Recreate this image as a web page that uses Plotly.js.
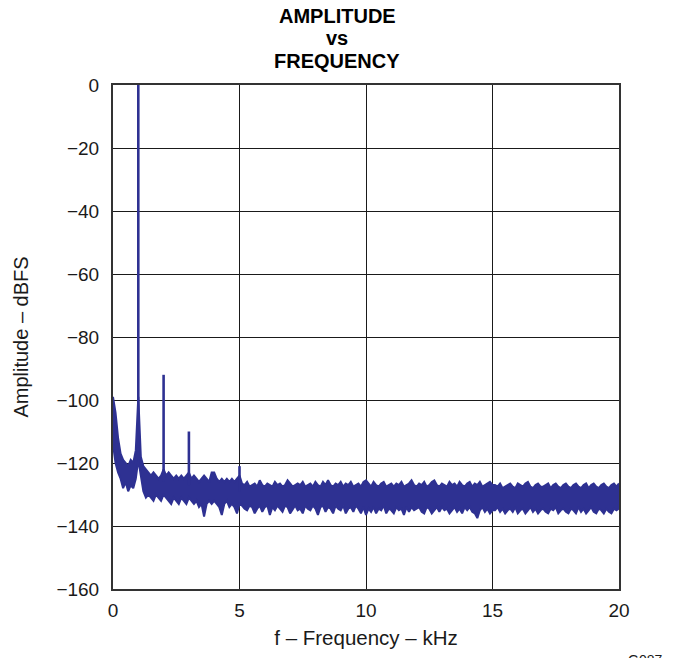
<!DOCTYPE html>
<html>
<head>
<meta charset="utf-8">
<script src="https://cdn.plot.ly/plotly-3.0.1.min.js"></script>
<style>html,body{margin:0;padding:0;background:#fff;}#chart{width:674px;height:658px;}</style>
</head>
<body>
<div id="chart"></div>
<script>
// Frequency bins (kHz), 0.1 kHz spacing from 0 to 20
const freqStart = 0, freqStep = 0.1, freqCount = 201;

// Upper edge of the noise floor (dBFS)
const floorUpper = [
  -99,-104,-112,-117,-119,-120,-121,-119,-120,-116,
  -99,-118,-121,-122,-123,-124,-123,-124,-125,-124,
  -122,-124,-123,-124,-125,-124,-125,-124,-125,-124,
  -123,-125,-124,-125,-126,-125,-124,-125,-126,-123,
  -123,-125,-126,-125,-126,-125,-126,-125,-126,-125,
  -124,
  -126.5,-127,-126,-127.5,-127,-126.5,-127.5,-125.5,-127,-127.5,
  -126.5,-127,-127.5,-126,-127,-126.5,-127.5,-127,-125.5,-126.5,
  -127.5,-127,-126.5,-127,-126,-127.5,-127,-126.5,-127.5,-126,
  -127,-127.5,-126,-127,-125.5,-127,-127.5,-126.5,-127,-126,
  -127.5,-126.5,-127,-126,-127.5,-127,-126.5,-127.5,-126,-125.5,
  -126.5,-127.5,-126,-127,-127.5,-126.5,-126,-127.5,-127,-126.5,
  -127.5,-126.5,-127,-126,-127.5,-127,-126.5,-125.5,-127,-127.5,
  -126.5,-127,-126,-127.5,-127,-126,-125.5,-127,-127.5,-126.5,
  -127,-127.5,-126,-127,-126.5,-127.5,-126,-127,-127.5,-126.5,
  -126,-127.5,-126.5,-127,-126,-127.5,-127,-126.5,-126,-127,
  -127,-127.5,-126.5,-128,-127.5,-127,-126.5,-127.5,-128,-126.5,
  -127,-127.5,-126.5,-126,-127.5,-128,-127,-126.5,-127.5,-127.5,
  -127,-126.5,-128,-127,-126.5,-127.5,-128,-127,-126.5,-127.5,
  -128,-127,-126.5,-127.5,-128,-127,-126.5,-128,-127,-126.5,
  -127.5,-128,-127,-126.5,-127.5,-128,-127,-126.5,-127.5,-126.5
];

// Lower edge of the noise floor (dBFS)
const floorLower = [
  -114,-120,-123,-125,-128,-126,-129,-127,-128,-125,
  -119,-124,-129,-131,-130,-131,-132,-130,-131,-132,
  -130,-131,-132,-133,-131,-132,-133,-131,-132,-133,
  -131,-132,-133,-132,-134,-133,-137,-133,-132,-133,
  -132,-133,-134,-136.5,-133,-132,-134,-133,-134,-136,
  -133,
  -133.5,-134.5,-135,-133.5,-134,-136,-134.5,-133.5,-135.5,-134,
  -133.5,-136.5,-134,-135,-133.5,-134.5,-135.5,-133.5,-134,-136,
  -134.5,-133.5,-135,-134.5,-136,-133.5,-134.5,-135,-133.5,-134.5,
  -136.5,-134,-133.5,-135.5,-134,-134.5,-136,-133.5,-134.5,-135,
  -133.5,-136,-134.5,-134,-135.5,-133.5,-134.5,-136,-134,-136.5,
  -134.5,-135.5,-134,-136,-134.5,-135,-133.5,-136,-134.5,-135,
  -136,-134,-135,-134.5,-136.5,-134,-135.5,-134,-135,-134.5,
  -134,-135.5,-136,-134,-134.5,-136,-135,-134,-135.5,-134,
  -135,-134.5,-136,-135,-134,-135.5,-134.5,-136,-134,-135,
  -134,-135.5,-136,-137.5,-135,-134,-135.5,-134.5,-136,-135,
  -135,-134,-135.5,-134.5,-136,-135,-134.5,-135.5,-134,-136,
  -135,-134.5,-136,-135,-134,-135.5,-134.5,-136,-135,-134.5,
  -135.5,-136,-134.5,-135,-134,-136,-135,-134.5,-135.5,-136,
  -134.5,-135,-136,-134,-135.5,-134.5,-136,-135,-134,-135.5,
  -136,-134.5,-135,-136,-134.5,-135.5,-136,-134.5,-135,-134.5
];

// Fundamental and harmonic spurs
const toneFreq = [1, 2, 3, 5];         // kHz
const toneAmp  = [0, -92, -110, -121]; // dBFS

// Axis ticks
const xTicks = [0, 5, 10, 15, 20];
const yTicks = [0, -20, -40, -60, -80, -100, -120, -140, -160];

// Title lines
const titleLines = ['AMPLITUDE', 'vs', 'FREQUENCY'];

const freq = [];
for (let i = 0; i < freqCount; i++) freq.push(+(freqStart + i * freqStep).toFixed(2));

const blue = '#2e3192';

// Build spur segments from the spur table (base taken from the floor's lower edge)
const spurX = [], spurY = [];
toneFreq.forEach((f, k) => {
  const idx = Math.round((f - freqStart) / freqStep);
  spurX.push(f, f, null);
  spurY.push(floorLower[idx] + 4, toneAmp[k], null);
});

const traces = [
  {x: freq, y: floorUpper, mode: 'lines', line: {color: blue, width: 2}, hoverinfo: 'skip', showlegend: false},
  {x: freq, y: floorLower, mode: 'lines', line: {color: blue, width: 2}, fill: 'tonexty', fillcolor: blue, hoverinfo: 'skip', showlegend: false},
  {x: spurX, y: spurY, mode: 'lines', line: {color: blue, width: 2.6}, hoverinfo: 'skip', showlegend: false}
];

const font = 'Liberation Sans, Arial, Helvetica, sans-serif';

// plot area: 113..619 px horizontally, 85..589 px vertically
const titleYpx = [16, 38, 61];
const annotations = titleLines.map((t, i) => ({
  text: '<b>' + t + '</b>', xref: 'paper', yref: 'paper',
  x: (337 - 113) / 506, y: (589 - titleYpx[i]) / 504,
  xanchor: 'center', yanchor: 'middle', showarrow: false,
  font: {family: font, size: 20, color: '#000'}
}));
annotations.push({text: 'G087', xref: 'paper', yref: 'paper', x: (645 - 113) / 506, y: (589 - 650) / 504,
  xanchor: 'center', yanchor: 'top', showarrow: false,
  font: {family: font, size: 14, color: '#1a1a1a'}});

const layout = {
  width: 674, height: 658,
  margin: {l: 113, r: 55, t: 85, b: 69},
  paper_bgcolor: '#fff', plot_bgcolor: '#fff',
  font: {family: font, size: 19, color: '#1a1a1a'},
  xaxis: {
    range: [0, 20], tickvals: xTicks, ticktext: xTicks.map(String),
    showgrid: true, gridcolor: '#1a1a1a', gridwidth: 1,
    showline: true, linecolor: '#333', linewidth: 2, mirror: true,
    ticks: '', zeroline: false, ticklabelstandoff: 3,
    tickfont: {family: font, size: 19, color: '#1a1a1a'},
    title: {text: 'f – Frequency – kHz', font: {family: font, size: 20.5, color: '#1a1a1a'}, standoff: 11}
  },
  yaxis: {
    range: [-160, 0], tickvals: yTicks,
    showgrid: true, gridcolor: '#1a1a1a', gridwidth: 1,
    showline: true, linecolor: '#333', linewidth: 2, mirror: true,
    ticks: '', zeroline: false, ticklabelstandoff: 8,
    tickfont: {family: font, size: 19, color: '#1a1a1a'},
    title: {text: 'Amplitude – dBFS', font: {family: font, size: 20, color: '#1a1a1a'}, standoff: 22}
  },
  annotations: annotations
};

Plotly.newPlot('chart', traces, layout, {displayModeBar: false, staticPlot: true});
</script>
</body>
</html>
